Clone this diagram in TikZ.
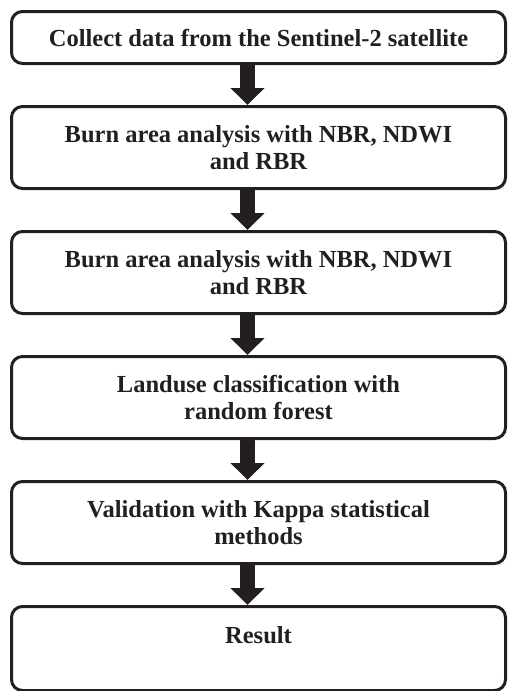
\documentclass[tikz,border=0pt]{standalone}
\usepackage{fontspec}
\setmainfont{Liberation Serif}
\usetikzlibrary{positioning,arrows.meta}
\definecolor{ink}{HTML}{231F20}
\begin{document}
\begin{tikzpicture}[x=1pt, y=1pt, node distance=40pt,
    stepbox/.style={draw=ink, line width=3pt, rounded corners=11pt,
      minimum width=494pt, minimum height=82pt, inner sep=0pt,
      align=center, text=ink, font=\bfseries\fontsize{24.5}{26.5}\selectfont},
    flow/.style={ink, line width=14.5pt, -{Triangle[width=33pt,length=17pt]}}]
  \useasboundingbox (0,0) rectangle (508,-691);
  % the steps, top to bottom
  \node[stepbox, minimum height=52pt] (collect) at (258.5,-37.5)
    {Collect data from the Sentinel-2 satellite};
  \node[stepbox, below=of collect] (burnA) {Burn area analysis with NBR, NDWI\\and RBR};
  \node[stepbox, below=of burnA] (burnB) {Burn area analysis with NBR, NDWI\\and RBR};
  \node[stepbox, below=of burnB] (landuse) {Landuse classification with\\random forest};
  \node[stepbox, below=of landuse] (kappa) {Validation with Kappa statistical\\methods};
  \node[stepbox, minimum height=84pt, below=of kappa] (result) {Result\\\mbox{}};
  % block arrows between them, a little left of centre
  \foreach \a/\b in {collect/burnA, burnA/burnB, burnB/landuse, landuse/kappa, kappa/result}
    \draw[flow] ([xshift=-11pt]\a.south) -- ([xshift=-11pt]\b.north);
\end{tikzpicture}
\end{document}
